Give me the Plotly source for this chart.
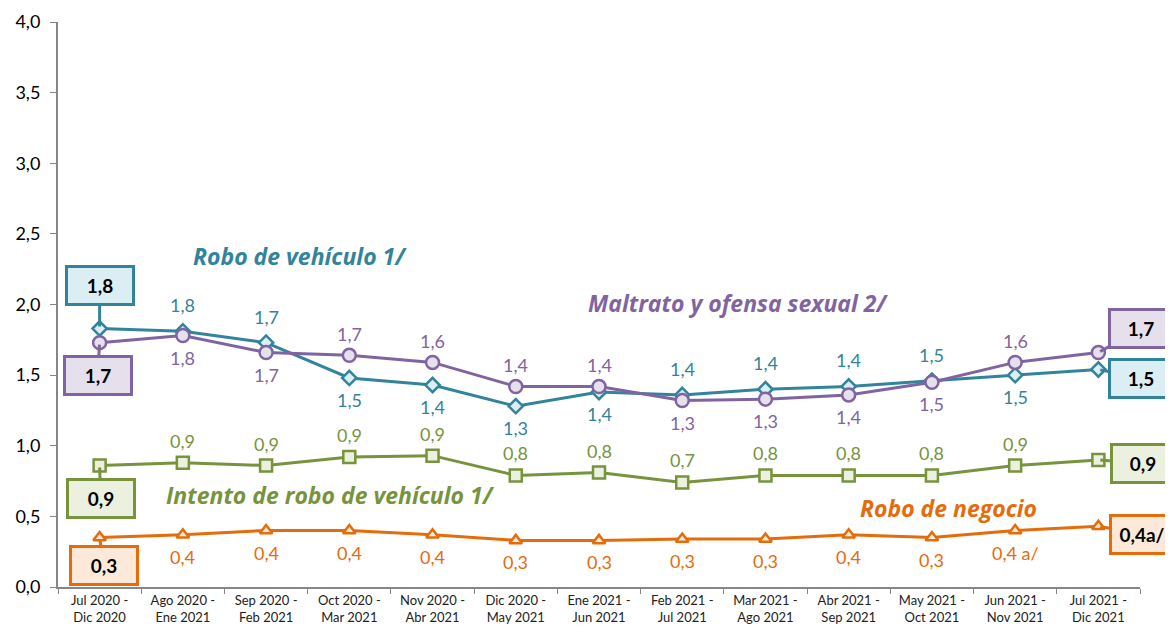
import plotly.graph_objects as go

categories = ["Jul 2020 -<br>Dic 2020", "Ago 2020 -<br>Ene 2021", "Sep 2020 -<br>Feb 2021",
              "Oct 2020 -<br>Mar 2021", "Nov 2020 -<br>Abr 2021", "Dic 2020 -<br>May 2021",
              "Ene 2021 -<br>Jun 2021", "Feb 2021 -<br>Jul 2021", "Mar 2021 -<br>Ago 2021",
              "Abr 2021 -<br>Sep 2021", "May 2021 -<br>Oct 2021", "Jun 2021 -<br>Nov 2021",
              "Jul 2021 -<br>Dic 2021"]

robo_vehiculo = [1.83, 1.81, 1.73, 1.48, 1.43, 1.28, 1.38, 1.36, 1.40, 1.42, 1.46, 1.50, 1.54]
maltrato = [1.73, 1.78, 1.66, 1.64, 1.59, 1.42, 1.42, 1.32, 1.33, 1.36, 1.45, 1.59, 1.66]
intento = [0.86, 0.88, 0.86, 0.92, 0.93, 0.79, 0.81, 0.74, 0.79, 0.79, 0.79, 0.86, 0.90]
robo_negocio = [0.35, 0.37, 0.40, 0.40, 0.37, 0.33, 0.33, 0.34, 0.34, 0.37, 0.35, 0.40, 0.43]

lbl_vehiculo = ["1,8", "1,8", "1,7", "1,5", "1,4", "1,3", "1,4", "1,4", "1,4", "1,4", "1,5", "1,5", "1,5"]
pos_vehiculo = ["", "top", "top", "bottom", "bottom", "bottom", "bottom", "top", "top", "top", "top", "bottom", ""]
lbl_maltrato = ["1,7", "1,8", "1,7", "1,7", "1,6", "1,4", "1,4", "1,3", "1,3", "1,4", "1,5", "1,6", "1,7"]
pos_maltrato = ["", "bottom", "bottom", "top", "top", "top", "top", "bottom", "bottom", "bottom", "bottom", "top", ""]
lbl_intento = ["0,9", "0,9", "0,9", "0,9", "0,9", "0,8", "0,8", "0,7", "0,8", "0,8", "0,8", "0,9", "0,9"]
pos_intento = ["", "top", "top", "top", "top", "top", "top", "top", "top", "top", "top", "top", ""]
lbl_negocio = ["0,3", "0,4", "0,4", "0,4", "0,4", "0,3", "0,3", "0,3", "0,3", "0,4", "0,3", "0,4 a/", "0,4a/"]
pos_negocio = ["", "bottom", "bottom", "bottom", "bottom", "bottom", "bottom", "bottom", "bottom", "bottom", "bottom", "bottom", ""]

FONT = "Lato"
TITLE_FONT = "Open Sans"

series = [
    ("Robo de vehículo 1/", robo_vehiculo, lbl_vehiculo, pos_vehiculo, "#31849B", "#DAEEF3", "diamond", 11, 26),
    ("Maltrato y ofensa sexual 2/", maltrato, lbl_maltrato, pos_maltrato, "#8064A2", "#E5E0EC", "circle", 13, 21),
    ("Intento de robo de vehículo 1/", intento, lbl_intento, pos_intento, "#77933C", "#EBF1DE", "square", 12, 22),
    ("Robo de negocio", robo_negocio, lbl_negocio, pos_negocio, "#E46C0A", "#FDE9D9", "triangle-up", 11, 23),
]

fig = go.Figure()
for name, vals, lbls, poss, col, fill, sym, ms, up in series:
    fig.add_trace(go.Scatter(
        x=categories, y=vals, mode="lines+markers", name=name,
        line=dict(color=col, width=3),
        marker=dict(symbol=sym, size=ms, color=fill, line=dict(color=col, width=2.5)),
        cliponaxis=False, showlegend=False,
    ))
    for c, v, l, p in zip(categories, vals, lbls, poss):
        if not p:
            continue
        fig.add_annotation(
            x=c, y=v, text=l, showarrow=False,
            yshift=up if p == "top" else -22,
            font=dict(family=FONT, size=18, color=col),
        )

# Callout boxes at the ends
callouts = [
    (0, robo_vehiculo[0], lbl_vehiculo[0], "#31849B", "#DAEEF3", 0, -43),
    (0, maltrato[0], lbl_maltrato[0], "#8064A2", "#E5E0EC", -2, 33),
    (0, intento[0], lbl_intento[0], "#77933C", "#EBF1DE", 1, 33),
    (0, robo_negocio[0], lbl_negocio[0], "#E46C0A", "#FDE9D9", 4, 28),
    (12, maltrato[12], lbl_maltrato[12], "#8064A2", "#E5E0EC", 43, -24),
    (12, robo_vehiculo[12], lbl_vehiculo[12], "#31849B", "#DAEEF3", 43, 9),
    (12, intento[12], lbl_intento[12], "#77933C", "#EBF1DE", 45, 4),
    (12, robo_negocio[12], lbl_negocio[12], "#E46C0A", "#FDE9D9", 44, 8),
]
for i, v, t, col, fill, ax, ay in callouts:
    fig.add_annotation(
        x=categories[i], y=v, text="<b>" + t + "</b>", showarrow=True,
        ax=ax, ay=ay, arrowhead=0, arrowwidth=3, arrowcolor=col,
        bordercolor=col, borderwidth=3, bgcolor=fill, borderpad=6,
        font=dict(family=FONT, size=19, color="black"), width=52 if i == 0 else 48,
        standoff=2,
    )

# Page has an 8px body margin: the figure starts at (8, 8) in the window.
OFF = 8
W, H = 1173 - OFF, 629 - OFF
L, R, T, B = 58 - OFF, 1140 - OFF, 22 - OFF, 587 - OFF

# Series titles (x given as window pixel centre, converted to axis-domain fraction)
titles = [
    ("Robo de vehículo 1/", "#31849B", 300, 2.34),
    ("Maltrato y ofensa sexual 2/", "#8064A2", 738, 2.01),
    ("Intento de robo de vehículo 1/", "#77933C", 330, 0.65),
    ("Robo de negocio", "#E46C0A", 948, 0.56),
]
for t, col, xp, yv in titles:
    fig.add_annotation(
        x=(xp - OFF - L) / (R - L), xref="x domain", xanchor="center", y=yv, yanchor="middle",
        text="<b><i>" + t + "</i></b>",
        showarrow=False, font=dict(family=TITLE_FONT, size=23, color=col),
    )

fig.update_layout(
    width=W, height=H,
    margin=dict(l=L, r=W - R, t=T, b=H - B),
    plot_bgcolor="white", paper_bgcolor="white",
    separators=",.",
    xaxis=dict(
        showline=True, linecolor="#868686", linewidth=2,
        ticks="outside", tickson="boundaries", ticklen=5, tickcolor="#868686",
        tickfont=dict(family=FONT, size=13, color="#222222"),
        showgrid=False, range=[-0.5, 12.5], automargin=False,
    ),
    yaxis=dict(
        range=[0, 4], dtick=0.5, tickformat=".1f",
        showline=True, linecolor="#868686", linewidth=2,
        ticks="outside", ticklen=6, tickcolor="#868686",
        tickfont=dict(family=FONT, size=18, color="black"),
        ticklabelstandoff=6,
        showgrid=False, zeroline=False, automargin=False,
    ),
)

fig.write_html("out.html")
